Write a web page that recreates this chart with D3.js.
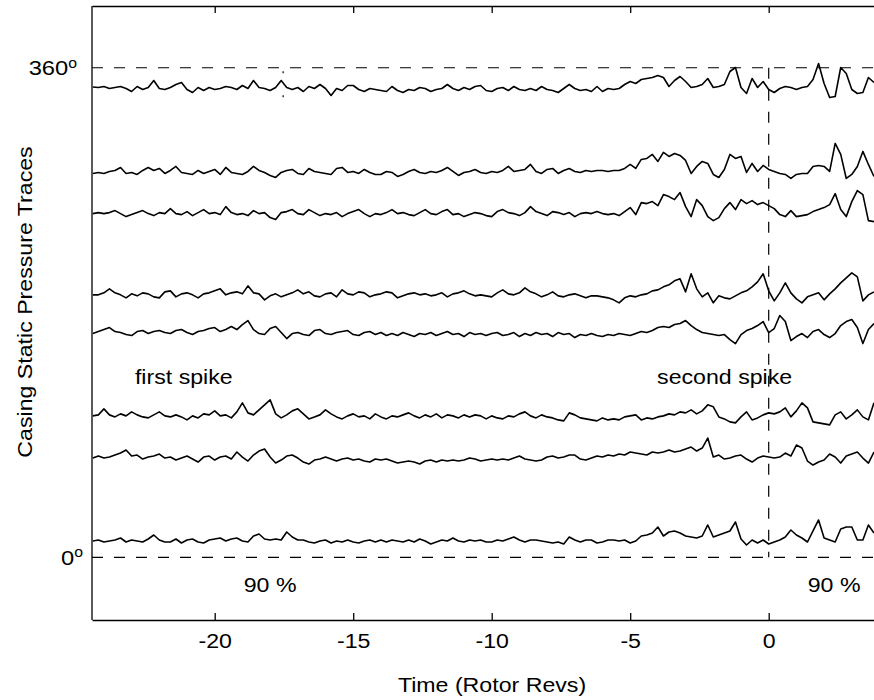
<!DOCTYPE html>
<html>
<head>
<meta charset="utf-8">
<script src="https://cdn.jsdelivr.net/npm/d3@7"></script>
<style>
  body { margin: 0; background: #fff; }
  svg text { font-family: "Liberation Sans", Arial, Helvetica, sans-serif; fill: #000; }
  .trace { fill: none; stroke: #000; stroke-width: 1.6; stroke-linejoin: round; }
  .ref { stroke: #000; stroke-width: 1.2; stroke-dasharray: 11,11; }
  .axis path, .axis line { stroke: #000; stroke-width: 1.3; }
</style>
</head>
<body>
<svg id="chart" width="874" height="700"></svg>
<script>
// sensor angle (deg) of each trace, top to bottom
var traceAngles = [344, 283, 252, 193, 166, 104, 73, 12];
// samples start at t0 revs, one every dt revs
var t0 = -24.4, dt = 0.2;

// pressure fluctuation per trace
var trace1 = [
  2.5, 2, 3, 1, 2, 3, 1, -2, 3, 0,
  2, 9, 1, 0, 2, 5, 7, 0, -3, 2,
  -1, 2, 0, 1, 3, 2, 0, 4, 1, 9,
  2, 1, -1, 2, 9, 2, 0, 2, -2, 3,
  1, 5, 1, -6, 1, -1, 4, 4, 0, -2,
  1, 0, -1, -2, 3, -1, -3, 0, -1, 2,
  1, -2, 0, 1, 5, 1, -1, 2, 0, 3,
  4, -1, -2, 1, 2, -1, 3, 0, -1, 1,
  -1, 3, 0, -1, -3, 1, 5, 1, -1, 0,
  -2, 3, -2, 1, 0, 1, 5, 8, 6, 10,
  11, 12, 14, 12, 3, 9, 13, 8, 2, 3,
  5, 11, 2, 3, 5, 18, 22, 2, -4, 11,
  2, 8, 0, -3, 1, 3, 2, 0, 2, 3,
  10, 26, 6, -8, -7, 22, 16, 0, -4, -3,
  12, 7
];
var trace2 = [
  -1, 0, -1, 1, 2, 5, -1, 0, -2, 2,
  5, 2, 4, -1, 2, 6, 0, -1, -2, 2,
  -1, 1, 3, -2, 5, 0, -1, -2, 1, 6,
  2, 0, -3, -5, 0, 2, 3, -1, -2, 4,
  1, 0, -1, -2, 4, 5, 0, 1, -1, 3,
  0, -2, -2, 1, 0, -4, -2, 1, 3, 0,
  -1, 1, 0, 2, 5, 1, -3, 0, 1, 3,
  0, -1, 1, 0, 2, 6, 1, 2, 3, 8,
  1, -1, 3, 4, -1, 2, 4, 1, 0, 2,
  1, 2, 2, 1, 2, 2, 4, 8, 4, 13,
  14, 18, 11, 20, 16, 19, 17, 12, -1, 6,
  11, 9, -2, -5, 3, 18, 14, 16, 0, 9,
  1, 7, 3, 1, -1, -2, -6, -2, -1, -1,
  6, 7, 6, 1, 29, 18, -6, -2, 6, 21,
  8, -4
];
var trace3 = [
  1, 2, 1, 2, 4, 1, -2, 0, 2, 4,
  1, -1, 2, 1, 6, 1, 0, 3, -1, 2,
  5, 1, 2, 0, 8, 2, 0, 1, -1, 4,
  1, 2, -3, -5, 2, 3, 5, 1, 0, 5,
  2, -1, 1, 0, 2, -2, 1, 3, 5, 1,
  -2, 1, 0, 2, 5, 1, 2, 0, -1, 2,
  5, 1, 0, 3, 5, 0, 1, -2, 0, 2,
  1, -1, -2, 3, 5, 2, 1, -1, 2, 8,
  3, 1, -1, 3, 2, 0, 2, -2, 1, 2,
  1, 3, 1, 0, 1, -1, 3, 7, 0, 12,
  11, 13, 9, 20, 18, 15, 22, 8, -2, 15,
  9, -2, -6, -3, 6, 12, 5, 15, 11, 14,
  10, 12, 9, 6, 0, -2, 4, -2, -1, 0,
  3, 5, 7, 10, 21, 5, -2, 13, 24, 20,
  -6, -7
];
var trace4 = [
  0, 0, 2, 6, 2, 0, -3, 1, -1, 2,
  1, -2, -3, 3, 4, -2, 1, 2, 0, -3,
  1, 2, 4, 6, 0, 2, 3, 1, 9, 2,
  1, -5, -1, 1, -2, 0, 2, 5, 1, 3,
  -1, -2, 1, 2, -2, 5, 1, 0, 3, 2,
  -2, 0, 1, 3, 2, -3, -1, 1, 2, 0,
  1, -1, 0, 2, -2, 1, 2, 4, 1, -1,
  0, -1, -2, 2, 5, 1, 0, 2, 7, 3,
  1, -2, 0, 3, -1, -2, 0, 1, -1, -3,
  -1, -1, -2, -3, -5, -8, -3, -1, -2, 0,
  1, 4, 5, 8, 10, 14, 16, 3, 21, 6,
  -2, 2, -8, -1, -3, -4, -1, 2, 4, 8,
  13, 21, 4, -6, 2, 12, 2, -4, -8, -2,
  0, 2, -5, 1, 6, 12, 17, 22, 18, -6,
  0, 3
];
var trace5 = [
  -2, 0, 2, 4, 0, -1, -3, -4, 0, 1,
  -2, 0, 1, -1, -2, 1, 2, -1, -3, 0,
  1, 3, 4, 0, 2, 5, 2, 7, 11, 2,
  -2, -3, 3, 5, -1, -7, -2, -1, -3, -4,
  1, 2, -2, -3, -1, 0, 1, -3, -4, -1,
  0, -3, -1, -4, -2, -4, -1, -3, -5, -2,
  -3, -1, -4, -2, 0, -3, -2, -5, -1, -3,
  -2, -4, -2, -1, -4, -3, -1, -5, -2, -4,
  -1, -3, -2, -5, -1, -3, -2, -6, -3, -4,
  -2, -4, -5, -3, -4, -2, -3, -4, -2, 0,
  -1, 1, 4, 5, 4, 7, 8, 11, 6, 2,
  -1, -2, -3, -4, -3, -8, -12, -3, 1, 3,
  6, 10, -1, 3, 16, 10, -9, -5, -2, -6,
  0, 2, -3, -6, -2, 6, 10, 12, 4, -12,
  2, 8
];
var trace6 = [
  0, 1, 7, 1, -1, 2, 0, 4, 1, -1,
  -2, 1, 4, 0, -1, 1, -1, -4, 0, -2,
  2, 1, 5, 0, 1, -2, 4, 13, 3, 1,
  6, 11, 16, 2, -2, 1, 5, 7, 2, -3,
  -1, 1, 6, 2, -1, -3, 0, 2, -1, 0,
  -3, 2, -1, -3, 0, -1, 1, 3, 0, -2,
  1, -1, 2, -2, 1, 0, -2, 1, -1, 1,
  0, -3, 0, -2, -3, 0, -1, 2, 4, 0,
  -2, 1, -1, -2, -4, -5, 3, 1, -2, -3,
  -4, -5, -2, -4, -3, -4, -1, 0, 1, -4,
  -2, -3, -1, 0, 2, 1, 4, 3, 6, 2,
  5, 11, 9, -1, -3, -6, -7, -1, 4, -4,
  -2, 1, 3, 2, 4, 8, -1, 5, 13, 8,
  -6, -7, -8, -9, 1, 4, -3, 1, 6, -1,
  -4, 13
];
var trace7 = [
  0, 2, 0, 1, 3, 5, 8, 2, 3, -1,
  1, 2, 4, 0, 1, -2, 0, 2, -1, -4,
  1, 2, -2, 1, 2, -1, 6, 1, -3, 3,
  7, 9, 1, -5, -2, 2, 3, 0, -4, -6,
  -2, -1, 1, -1, -3, -1, 0, -2, -1, -3,
  -4, -1, -2, -1, -3, -5, -4, -3, -4, -6,
  -3, -2, -4, -2, -3, -2, -3, -2, 0, -1,
  -3, -2, -1, -2, -1, -2, 0, 2, -1, -2,
  -3, -2, 1, 2, 0, 1, 3, 3, -1, -2,
  0, 2, 1, 3, 2, 4, 3, 6, 5, 4,
  3, 6, 5, 6, 8, 6, 7, 9, 11, 7,
  10, 20, 1, 3, -1, 0, 2, 3, -1, -4,
  0, 2, 1, 0, 1, 5, 2, 13, 10, -3,
  -7, -4, -2, 4, 1, -5, 2, 4, 6, 0,
  -5, 6
];
var trace8 = [
  0, 1, -1, 0, 1, 3, -1, 1, 0, -1,
  2, 6, 1, -1, -1, 2, -2, 1, 2, -1,
  -2, 1, 2, 3, 0, 2, 3, 0, -1, 5,
  7, 2, 1, 2, 1, 9, 4, 1, 1, -1,
  -2, 0, 1, -2, 0, -1, 1, -1, -2, 0,
  1, -1, 1, -1, 1, 0, -1, 1, -1, 2,
  0, -3, -1, 1, 0, 3, 0, -1, 1, 0,
  1, -1, -1, 1, 0, 2, 4, 1, -1, 1,
  1, 0, -1, -2, -1, -3, 4, 1, -1, 1,
  1, -2, -1, 1, 1, 0, 1, -2, 0, 5,
  6, 8, 14, 5, 9, 10, 8, 5, 4, 3,
  5, 16, 4, 6, 8, 10, 19, 2, -4, 1,
  -2, 1, -3, -1, 1, 4, 11, 6, 3, -1,
  10, 21, 3, 1, -1, 12, 14, 14, 1, 1,
  16, 8
];
var traces = [trace1, trace2, trace3, trace4, trace5, trace6, trace7, trace8];

var xTicks = [-20, -15, -10, -5, 0];
var yTicks = [0, 360];
var spikeLabels = ["first spike", "second spike"];
var speedLabels = ["90 %", "90 %"];

var margin = {top: 6, left: 92},
    width = 787.5,
    height = 614;
var traceGain = 0.736; // plot degrees per unit of pressure
var stretch = 1.13;    // glyphs in the original are wider than Arial

var svg = d3.select("#chart");
var g = svg.append("g")
    .attr("transform", "translate(" + margin.left + "," + margin.top + ")");

var x = d3.scaleLinear().domain([-24.43, 4.0]).range([0, width]),
    y = d3.scaleLinear().domain([-46.1, 405.4]).range([height, 0]);

svg.append("defs").append("clipPath").attr("id", "plotclip")
  .append("rect").attr("width", width).attr("height", height);

// reference lines
g.selectAll(".href")
  .data(yTicks)
  .enter().append("line")
    .attr("class", "ref")
    .attr("x1", 0).attr("x2", width)
    .attr("y1", function(d) { return y(d); })
    .attr("y2", function(d) { return y(d); });

g.append("line") // time zero marker
    .attr("class", "ref")
    .attr("x1", x(0)).attr("x2", x(0))
    .attr("y1", y(360)).attr("y2", y(0));

g.append("line") // small marker on the top trace
    .attr("class", "ref")
    .style("stroke-dasharray", "2,22")
    .attr("x1", x(-17.53)).attr("x2", x(-17.53))
    .attr("y1", y(357.5)).attr("y2", y(338));

// the traces
var line = d3.line()
    .x(function(d, i) { return x(t0 + i * dt); })
    .y(function(d) { return y(d.angle + d.v * traceGain); });

g.append("g")
    .attr("clip-path", "url(#plotclip)")
  .selectAll(".trace")
  .data(traces)
  .enter().append("path")
    .attr("class", "trace")
    .attr("d", function(vals, k) {
      return line(vals.map(function(v) { return {angle: traceAngles[k], v: v}; }));
    });

// axes
var xAxis = d3.axisBottom(x)
    .tickValues(xTicks)
    .tickSizeInner(-7)
    .tickSizeOuter(0)
    .tickPadding(13)
    .tickFormat(function(d) { return d === 0 ? "0" : "-" + Math.abs(d); });

var gx = g.append("g")
    .attr("class", "axis")
    .attr("transform", "translate(0," + height + ")")
    .call(xAxis);
gx.selectAll("text")
    .attr("font-size", 20.5)
    .attr("transform", "scale(" + stretch + ",1)");

g.append("g")
    .attr("class", "axis")
    .call(d3.axisTop(x).tickValues(xTicks).tickSizeInner(-7).tickSizeOuter(0).tickFormat(""));

g.append("line")
    .attr("stroke", "#000").attr("stroke-width", 1.3)
    .attr("x1", 0).attr("x2", 0).attr("y1", 0).attr("y2", height);

// y tick labels: value with a raised "o"
var ylab = g.selectAll(".ylab")
  .data(yTicks)
  .enter().append("text")
    .attr("class", "ylab")
    .attr("text-anchor", "end")
    .attr("font-size", 21)
    .attr("transform", function(d) {
      return "translate(" + (d === 0 ? -9 : -15) + "," + (y(d) + 7.5) + ") scale(" + stretch + ",1)";
    });
ylab.append("tspan").text(function(d) { return d; });
ylab.append("tspan").attr("font-size", 14).attr("dy", -7.5).text("o");

// axis titles
svg.append("text")
    .attr("text-anchor", "middle")
    .attr("font-size", 20.5)
    .attr("transform", "translate(492,692) scale(" + stretch + ",1)")
    .text("Time (Rotor Revs)");

svg.append("text")
    .attr("text-anchor", "middle")
    .attr("font-size", 20.5)
    .attr("transform", "translate(32,302) rotate(-90) scale(" + stretch + ",1)")
    .text("Casing Static Pressure Traces");

// annotations
g.selectAll(".spike")
  .data(spikeLabels)
  .enter().append("text")
    .attr("font-size", 20.5)
    .attr("transform", function(d, i) {
      return "translate(" + x(i === 0 ? -22.88 : -4.03) + "," + y(127.4) + ") scale(" + stretch + ",1)";
    })
    .text(function(d) { return d; });

g.selectAll(".speed")
  .data(speedLabels)
  .enter().append("text")
    .attr("font-size", 20.5)
    .attr("text-anchor", "middle")
    .attr("transform", function(d, i) {
      return "translate(" + x(i === 0 ? -18.0 : 2.36) + "," + y(-25.5) + ") scale(" + stretch + ",1)";
    })
    .text(function(d) { return d; });
</script>
</body>
</html>
